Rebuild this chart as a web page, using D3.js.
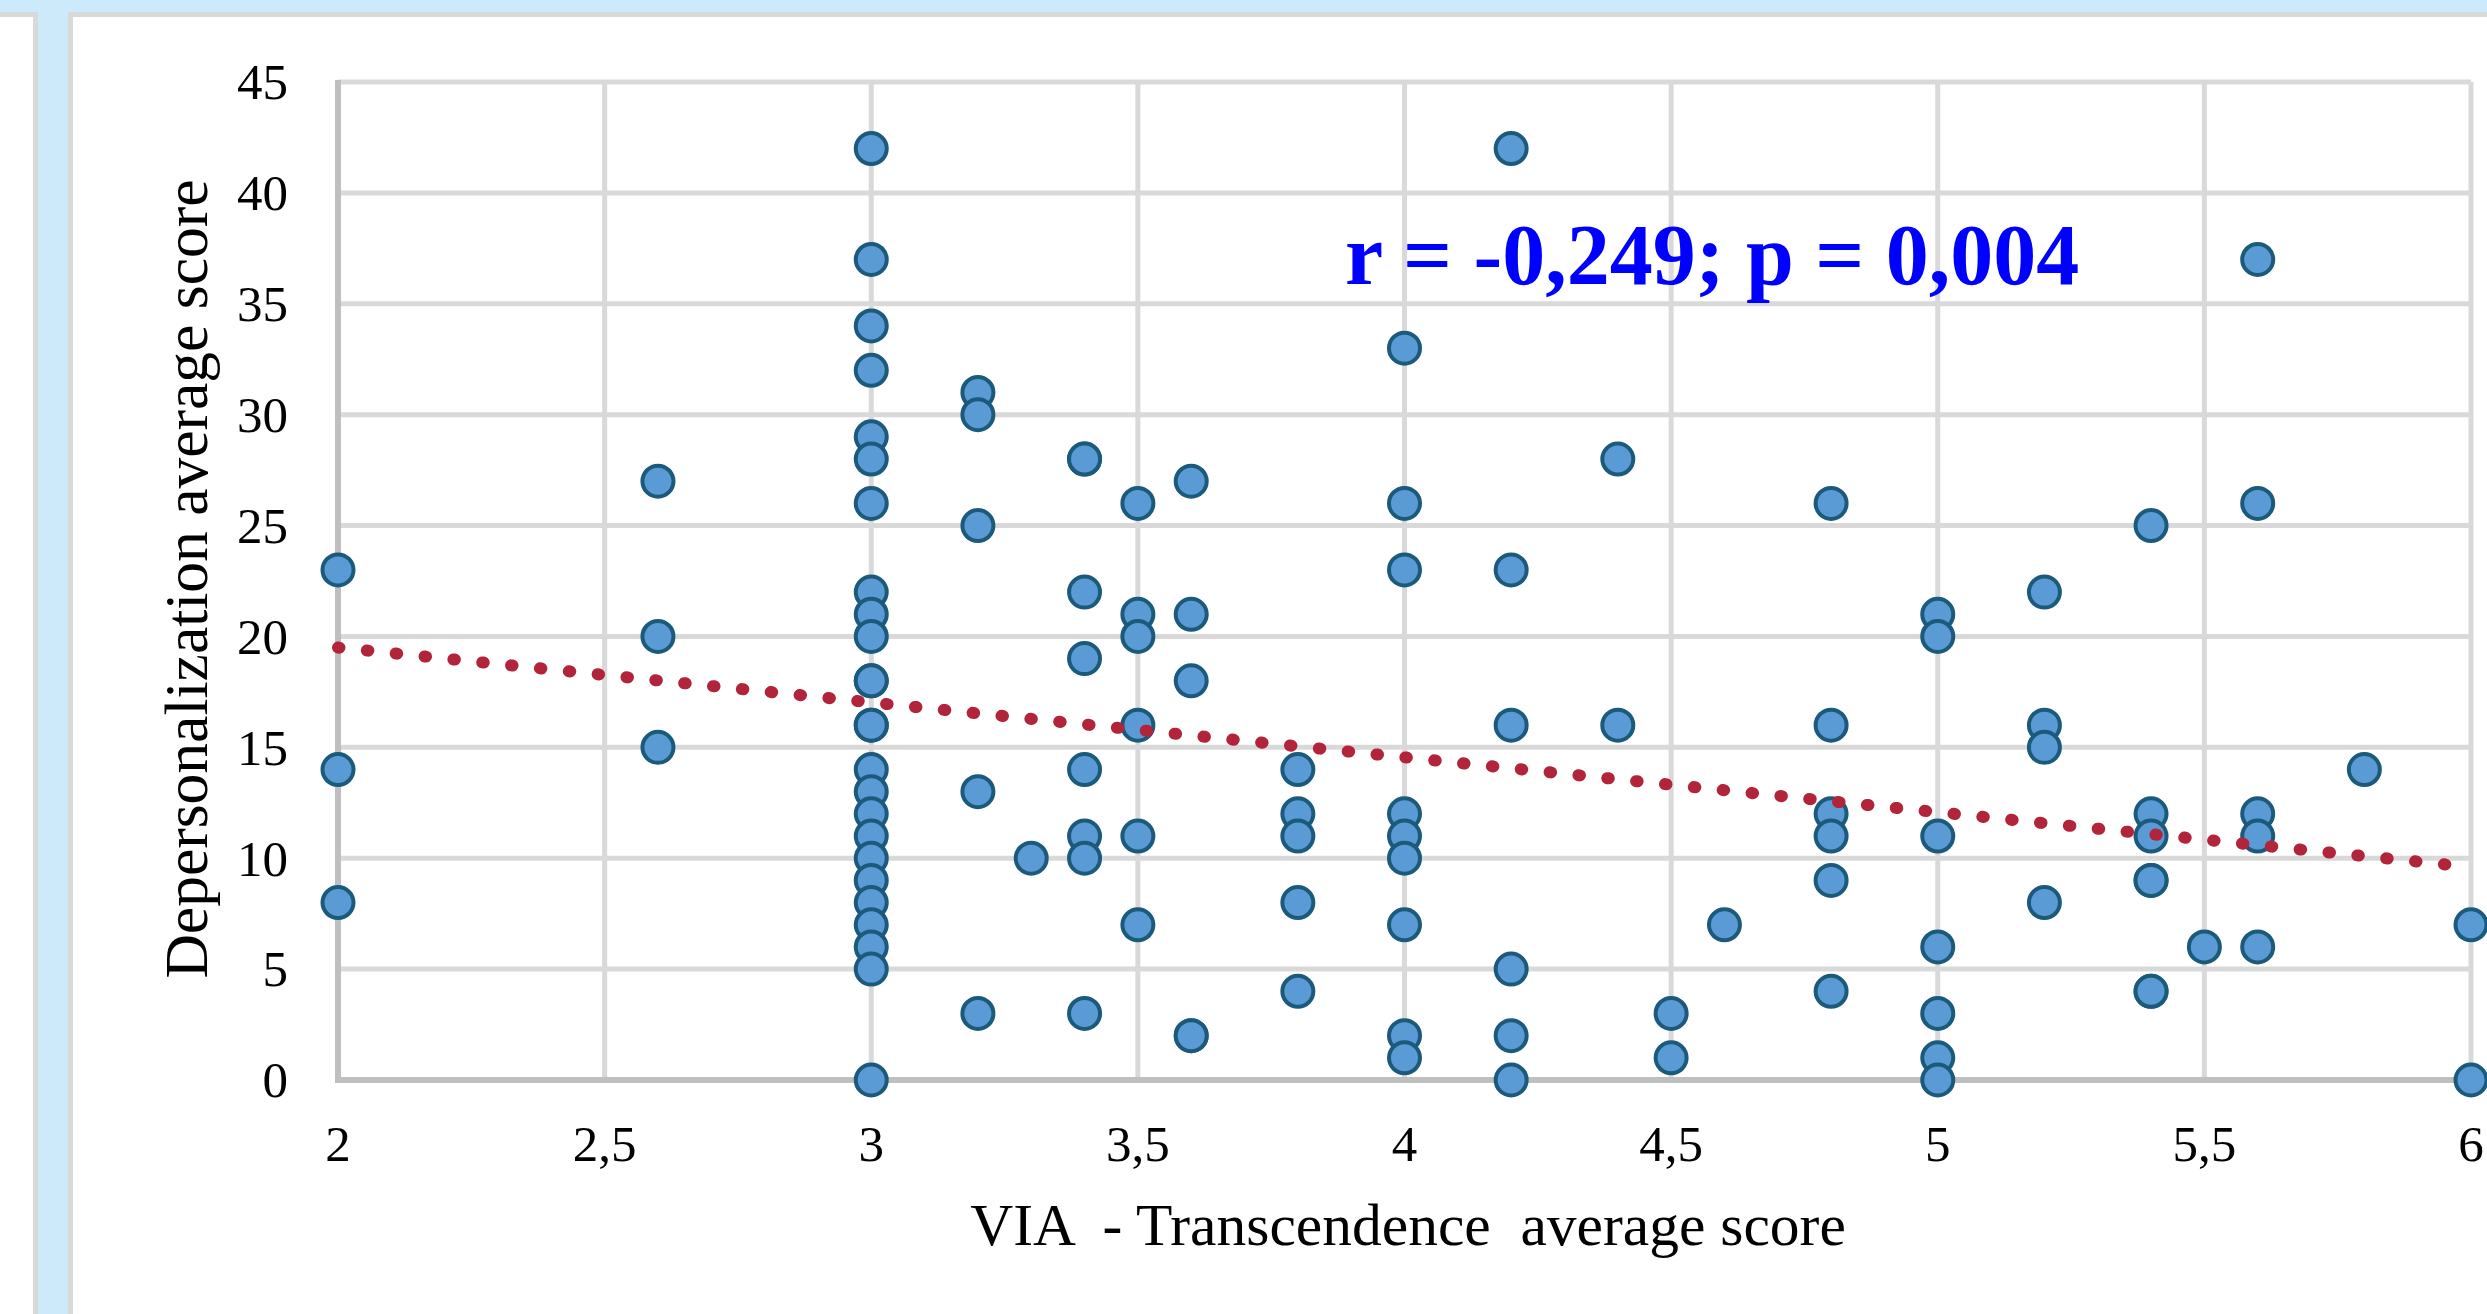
<!DOCTYPE html>
<html>
<head>
<meta charset="utf-8">
<script src="https://cdn.jsdelivr.net/npm/d3@7"></script>
<style>
  body { margin: 0; background: #ffffff; }
  svg { display: block; }
  text { font-family: "Liberation Serif", "Times New Roman", serif; }
</style>
</head>
<body>
<div id="graph"></div>
<script>
// datos
const xValues = [
  2, 2, 2,
  2.6, 2.6, 2.6,
  3, 3, 3, 3, 3, 3, 3, 3, 3, 3, 3, 3, 3, 3, 3, 3, 3, 3, 3, 3, 3, 3, 3, 3, 3,
  3.2, 3.2, 3.2, 3.2, 3.2,
  3.3,
  3.4, 3.4, 3.4, 3.4, 3.4, 3.4, 3.4, 3.4,
  3.5, 3.5, 3.5, 3.5, 3.5, 3.5,
  3.6, 3.6, 3.6, 3.6, 3.6,
  3.8, 3.8, 3.8, 3.8, 3.8,
  4, 4, 4, 4, 4, 4, 4, 4, 4,
  4.2, 4.2, 4.2, 4.2, 4.2, 4.2,
  4.4, 4.4,
  4.5, 4.5,
  4.6,
  4.8, 4.8, 4.8, 4.8, 4.8, 4.8,
  5, 5, 5, 5, 5, 5, 5,
  5.2, 5.2, 5.2, 5.2,
  5.4, 5.4, 5.4, 5.4, 5.4, 5.4, 5.4,
  5.5,
  5.6, 5.6, 5.6, 5.6, 5.6,
  5.8,
  6, 6
];
const yValues = [
  23, 14, 8,
  27, 20, 15,
  42, 37, 34, 32, 29, 28, 26, 22, 21, 20, 18, 18, 16, 16, 14, 13, 12, 11, 10, 9, 8, 7, 6, 5, 0,
  31, 30, 25, 13, 3,
  10,
  28, 28, 22, 19, 14, 11, 10, 3,
  26, 21, 20, 16, 11, 7,
  27, 21, 18, 2, 2,
  14, 12, 11, 8, 4,
  33, 26, 23, 12, 11, 10, 7, 2, 1,
  42, 23, 16, 5, 2, 0,
  28, 16,
  3, 1,
  7,
  26, 16, 12, 11, 9, 4,
  21, 20, 11, 6, 3, 1, 0,
  22, 16, 15, 8,
  25, 12, 11, 9, 9, 4, 4,
  6,
  37, 26, 12, 11, 6,
  14,
  7, 0
];

// linea de tendencia (extremos)
const trendX = [2, 6];
const trendY = [19.5, 9.6];

const xTicks = [2, 2.5, 3, 3.5, 4, 4.5, 5, 5.5, 6];
const xTickLabels = ["2", "2,5", "3", "3,5", "4", "4,5", "5", "5,5", "6"];
const yTicks = [0, 5, 10, 15, 20, 25, 30, 35, 40, 45];
const yTickLabels = ["0", "5", "10", "15", "20", "25", "30", "35", "40", "45"];

const xTitle = "VIA  - Transcendence  average score";
const yTitle = "Depersonalization average score";
const statText = "r = -0,249; p = 0,004";

const width = 2487, height = 1314;
const svg = d3.select("#graph").append("svg")
  .attr("width", width)
  .attr("height", height);

// marco de la diapositiva
svg.append("rect").attr("x", 0).attr("y", 0).attr("width", width).attr("height", height).attr("fill", "#ffffff");
svg.append("rect").attr("x", 0).attr("y", 0).attr("width", width).attr("height", 12).attr("fill", "#cdeafb");
svg.append("rect").attr("x", 0).attr("y", 12).attr("width", width).attr("height", 5).attr("fill", "#d9d9d9");
svg.append("rect").attr("x", 33).attr("y", 12).attr("width", 5).attr("height", height).attr("fill", "#d9d9d9");
svg.append("rect").attr("x", 68).attr("y", 12).attr("width", 5).attr("height", height).attr("fill", "#d9d9d9");
svg.append("rect").attr("x", 38).attr("y", 0).attr("width", 30).attr("height", height).attr("fill", "#cdeafb");

const x = d3.scaleLinear().domain([2, 6]).range([338, 2471]);
const y = d3.scaleLinear().domain([0, 45]).range([1080, 82]);

// rejilla
svg.append("g").selectAll("line")
  .data(yTicks.filter(d => d > 0))
  .join("line")
  .attr("x1", x(2)).attr("x2", x(6))
  .attr("y1", d => y(d)).attr("y2", d => y(d))
  .attr("stroke", "#d9d9d9").attr("stroke-width", 5);

svg.append("g").selectAll("line")
  .data(xTicks.filter(d => d > 2))
  .join("line")
  .attr("x1", d => x(d)).attr("x2", d => x(d))
  .attr("y1", y(45)).attr("y2", y(0))
  .attr("stroke", "#d9d9d9").attr("stroke-width", 5);

// ejes
svg.append("line")
  .attr("x1", x(2)).attr("x2", x(2)).attr("y1", y(45) - 2).attr("y2", y(0) + 3)
  .attr("stroke", "#bfbfbf").attr("stroke-width", 6);
svg.append("line")
  .attr("x1", x(2) - 3).attr("x2", x(6)).attr("y1", y(0)).attr("y2", y(0))
  .attr("stroke", "#bfbfbf").attr("stroke-width", 6);

// etiquetas de los ejes
svg.append("g").selectAll("text")
  .data(yTicks)
  .join("text")
  .attr("x", 288)
  .attr("y", d => y(d))
  .attr("dy", "0.34em")
  .attr("text-anchor", "end")
  .attr("font-size", 51)
  .attr("fill", "#000")
  .text((d, i) => yTickLabels[i]);

svg.append("g").selectAll("text")
  .data(xTicks)
  .join("text")
  .attr("x", d => x(d))
  .attr("y", 1161)
  .attr("text-anchor", "middle")
  .attr("font-size", 51)
  .attr("fill", "#000")
  .text((d, i) => xTickLabels[i]);

svg.append("text")
  .attr("x", 1408)
  .attr("y", 1245)
  .attr("text-anchor", "middle")
  .attr("font-size", 59.5)
  .attr("fill", "#000")
  .style("white-space", "pre")
  .text(xTitle);

svg.append("text")
  .attr("transform", "translate(207, 579) rotate(-90)")
  .attr("text-anchor", "middle")
  .attr("font-size", 61.5)
  .attr("fill", "#000")
  .text(yTitle);

// puntos
const points = xValues.map((v, i) => ({ x: v, y: yValues[i] }));
svg.append("g").selectAll("circle")
  .data(points)
  .join("circle")
  .attr("cx", d => x(d.x))
  .attr("cy", d => y(d.y))
  .attr("r", 15.5)
  .attr("fill", "#5b9bd5")
  .attr("stroke", "#1c5a7b")
  .attr("stroke-width", 4);

// tendencia lineal punteada
const trend = trendX.map((v, i) => [v, trendY[i]]);
svg.append("path")
  .datum(trend)
  .attr("d", d3.line().x(d => x(d[0])).y(d => y(d[1])))
  .attr("fill", "none")
  .attr("stroke", "#b2243a")
  .attr("stroke-width", 12)
  .attr("stroke-linecap", "round")
  .attr("stroke-dasharray", "1.5 27.5");

// anotacion
svg.append("text")
  .attr("x", 1345)
  .attr("y", 284)
  .attr("font-size", 86)
  .attr("font-weight", "bold")
  .attr("fill", "#0000ff")
  .text(statText);
</script>
</body>
</html>
